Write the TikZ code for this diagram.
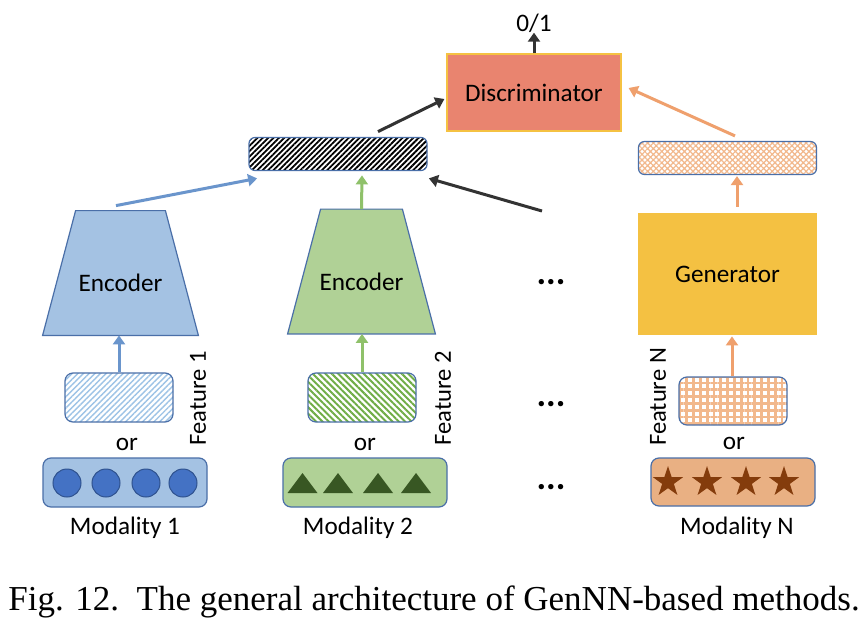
\documentclass[tikz,border=0pt]{standalone}
\usepackage{fontspec}
\setmainfont{Carlito}
\newfontfamily\capfont{Liberation Serif}
\usetikzlibrary{positioning, arrows.meta, shapes.geometric, patterns.meta, calc}
\definecolor{boxline}{HTML}{4A6FA8}
\definecolor{encblue}{HTML}{A4C2E3}
\definecolor{encgreen}{HTML}{B0D196}
\definecolor{discred}{HTML}{E9846F}
\definecolor{discline}{HTML}{F5C242}
\definecolor{genyellow}{HTML}{F4C142}
\definecolor{modorange}{HTML}{E9B083}
\definecolor{dotblue}{HTML}{4472C4}
\definecolor{dotline}{HTML}{2F528F}
\definecolor{trigreen}{HTML}{385723}
\definecolor{starbrown}{HTML}{843C0C}
\definecolor{arrblue}{HTML}{6A95CC}
\definecolor{arrgreen}{HTML}{8FC16A}
\definecolor{arrorange}{HTML}{EFA06D}
\definecolor{arrdark}{HTML}{333333}
\definecolor{stripeblue}{HTML}{9DC3E6}
\definecolor{stripegreen}{HTML}{70AD47}
\definecolor{stripeorange}{HTML}{F2B88C}
\tikzset{
    txt/.style={font=\fontsize{12.6}{15}\selectfont, inner sep=0pt},
    featlabel/.style={font=\fontsize{12.3}{14}\selectfont, inner sep=0pt, rotate=90},
    bar/.style={draw=boxline, line width=0.6pt, rounded corners=3pt, minimum width=89pt, minimum height=16.5pt, inner sep=0pt},
    featbox/.style={draw=boxline, line width=0.6pt, rounded corners=4pt, minimum width=54pt, minimum height=24.5pt, inner sep=0pt},
    modbox/.style={draw=boxline, line width=0.6pt, rounded corners=4pt, minimum width=82pt, minimum height=24.5pt, inner sep=0pt},
    encbox/.style={inner sep=0pt, minimum height=62pt},
    encshape/.style={draw=boxline, line width=0.6pt},
    flow/.style={line width=1.5pt, -{Triangle[length=4.5pt, width=6pt]}},
    dotsnode/.style={font=\fontsize{18}{20}\selectfont\bfseries, inner sep=0pt},
}
\begin{document}
\begin{tikzpicture}[x=0.5pt, y=-0.5pt]
    \fill[white] (0,0) rectangle (868,621);
    \useasboundingbox (0,0) rectangle (868,621);

    % top: discriminator and fused feature
    \node[draw=discline, line width=0.6pt, fill=discred, minimum width=87pt, minimum height=38.5pt, txt] (disc) at (534,92.5) {Discriminator};
    \node[txt] (out) at (534,23) {0/1};
    \node[bar, pattern={Lines[angle=45, distance=1.9pt, line width=0.9pt]}, pattern color=black] (fused) at (338,154) {};
    \node[bar, pattern={Hatch[angle=45, distance=2pt, line width=0.6pt]}, pattern color=stripeorange] (genbar) at (727.5,158) {};

    % modality 1
    \node[encbox, minimum width=77.5pt] (enc1) at (120.5,273) {};
    \draw[encshape, fill=encblue] (enc1.south west) -- (enc1.south east) -- ($(enc1.north east)+(-33,0)$) -- ($(enc1.north west)+(33,0)$) -- cycle;
    \node[txt] (enc1txt) at ($(enc1.center)+(0,10)$) {Encoder};
    \node[featbox, pattern={Lines[angle=45, distance=2pt, line width=0.7pt]}, pattern color=stripeblue] (feat1) at (119,397.5) {};
    \node[featlabel] (feat1txt) at (198,398) {Feature 1};
    \node[txt] (or1) at (127,444) {or};
    \node[modbox, fill=encblue] (mod1) at (125,482.5) {};
    \foreach \x [count=\i] in {67,106,146,183}
      \node[circle, draw=dotline, line width=0.5pt, fill=dotblue, minimum size=14pt, inner sep=0pt] (c\i) at (\x,483) {};
    \node[txt] (mod1txt) at (125,528) {Modality 1};

    % modality 2
    \node[encbox, minimum width=73.5pt] (enc2) at (361.5,271.5) {};
    \draw[encshape, fill=encgreen] (enc2.south west) -- (enc2.south east) -- ($(enc2.north east)+(-33,0)$) -- ($(enc2.north west)+(33,0)$) -- cycle;
    \node[txt] (enc2txt) at ($(enc2.center)+(0,10)$) {Encoder};
    \node[featbox, pattern={Lines[angle=-45, distance=2.25pt, line width=1pt]}, pattern color=stripegreen] (feat2) at (362,397.5) {};
    \node[featlabel] (feat2txt) at (443,398) {Feature 2};
    \node[txt] (or2) at (365,444) {or};
    \node[modbox, fill=encgreen] (mod2) at (365,482.5) {};
    \foreach \x in {302.5,338,378,416}
      \fill[trigreen] (\x-15,493) -- (\x+15,493) -- (\x,473) -- cycle;
    \node[txt] (mod2txt) at (358,528) {Modality 2};

    % modality N
    \node[fill=genyellow, minimum width=89.5pt, minimum height=61pt, txt] (gen) at (727.5,274) {Generator};
    \node[featbox, pattern={Hatch[angle=0, distance=3.4pt, line width=1.4pt]}, pattern color=stripeorange, minimum height=24pt] (featN) at (733,401) {};
    \node[featlabel] (featNtxt) at (658,397) {Feature N};
    \node[txt] (orN) at (734,443) {or};
    \node[modbox, fill=modorange, minimum height=24pt] (modN) at (733,482) {};
    \foreach \x [count=\i] in {668,707,746,784}
      \node[star, star points=5, star point ratio=2.6, fill=starbrown, minimum size=16pt, inner sep=0pt] (s\i) at (\x,482) {};
    \node[txt] (modNtxt) at (737,528) {Modality N};

    % dots
    \node[dotsnode] (dots1) at (551,282) {...};
    \node[dotsnode] (dots2) at (551,404) {...};
    \node[dotsnode] (dots3) at (551,487) {...};
    \coordinate (dotsin) at (542,211);

    % arrows
    \draw[flow, arrdark] (disc.north) -- (out.south);
    \draw[flow, arrdark] ($(fused.north)+(40,-5)$) -- ($(disc.west)+(-2,6.5)$);
    \draw[flow, arrdark] (dotsin) -- ($(fused.south east)+(1,7)$);
    \draw[flow, arrblue] ($(enc1.north)+(-4.5,-5)$) -- ($(fused.south west)+(9,7)$);
    \draw[flow, arrblue] (feat1.north) -- (feat1.north |- enc1.south);
    \draw[flow, arrgreen] (enc2.north) -- ($(fused.south)+(24,4)$);
    \draw[flow, arrgreen] (feat2.north) -- (feat2.north |- enc2.south);
    \draw[flow, arrorange] ($(genbar.north)+(7.5,-5)$) -- ($(disc.east)+(7,-4.5)$);
    \draw[flow, arrorange] ($(gen.north)+(9.5,-6)$) -- ($(genbar.south)+(9.5,1)$);
    \draw[flow, arrorange] ($(featN.north)+(-1,0)$) -- ($(gen.south)+(4.5,1)$);

    % caption
    \node[anchor=base, inner sep=0pt, font=\capfont\fontsize{17.5}{20}\selectfont] (cap) at (434,610) {Fig. 12.\ \ The general architecture of GenNN-based methods.};
\end{tikzpicture}
\end{document}
